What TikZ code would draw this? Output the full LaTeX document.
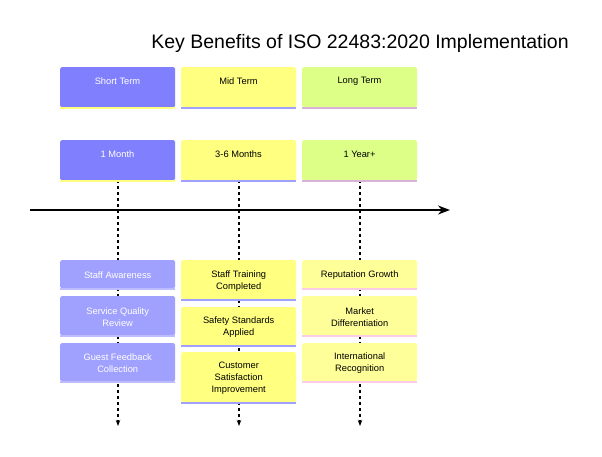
\documentclass[tikz,border=0pt]{standalone}
\usepackage{fontspec}
\setmainfont{Liberation Sans}
\usetikzlibrary{arrows.meta}
\definecolor{cshort}{HTML}{8080FF}
\definecolor{cshortl}{HTML}{A0A0FF}
\definecolor{cmid}{HTML}{FFFF80}
\definecolor{clong}{HTML}{DDFF88}
\definecolor{clongl}{HTML}{FFFF99}
\begin{document}
\begin{tikzpicture}[x=1pt,y=-1pt,
  bx/.style={draw=none,rounded corners=1.5pt,minimum width=115pt,align=center,inner sep=0pt,anchor=north west},
  dl/.style={dash pattern=on 3pt off 3pt,line width=1.2pt},
  tw/.style={font=\fontsize{9.3}{12}\selectfont,align=center,text=white},
  tb/.style={font=\fontsize{9.3}{12}\selectfont,align=center},
]
\useasboundingbox (0,0) rectangle (602,456);
\node[font=\fontsize{19.5}{22}\selectfont] (title) at (360,43) {Key Benefits of ISO 22483:2020 Implementation};
\coordinate (e1) at (118,426); \coordinate (e2) at (239,426); \coordinate (e3) at (360,426);
\coordinate (b1) at (118,180); \coordinate (b2) at (239,180); \coordinate (b3) at (360,180);
\draw[dl,-{Stealth[length=6pt]}] (b1) -- (e1);
\draw[dl,-{Stealth[length=6pt]}] (b2) -- (e2);
\draw[dl,-{Stealth[length=6pt]}] (b3) -- (e3);
\coordinate (a0) at (30,210); \coordinate (a1) at (450,210);
\draw[line width=1.8pt,-{Stealth[length=12pt,width=9pt]}] (a0) -- (a1);
\newcommand\mybox[6]{%
  \node[bx,fill=#5,minimum height=#4pt] (#1) at (#2,#3) {};
  \fill[#6] ([yshift=-1.5pt]#1.south west) rectangle (#1.south east);}
\mybox{s1}{60}{67}{40}{cshort}{cmid}
\mybox{m1}{181}{67}{40}{cmid}{cshortl}
\mybox{l1}{302}{67}{40}{clong}{violet!30}
\node[tw] at (117.5,81) {Short Term};
\node[tb] at (238.5,81) {Mid Term};
\node[tb] at (359.5,81) {Long Term};
\mybox{s2}{60}{140}{40}{cshort}{cmid}
\mybox{m2}{181}{140}{40}{cmid}{cshortl}
\mybox{l2}{302}{140}{40}{clong}{violet!30}
\node[tw] at (117.5,154) {1 Month};
\node[tb] at (238.5,154) {3-6 Months};
\node[tb] at (359.5,154) {1 Year+};
\mybox{s3}{60}{260}{28}{cshortl}{cshortl!70}
\mybox{s4}{60}{296}{39}{cshortl}{cshortl!70}
\mybox{s5}{60}{343}{38}{cshortl}{cshortl!70}
\mybox{m3}{181}{260}{39}{cmid}{cshortl}
\mybox{m4}{181}{307}{38}{cmid}{cshortl}
\mybox{m5}{181}{352}{50}{cmid}{cshortl}
\mybox{l3}{302}{260}{28}{clongl}{magenta!20}
\mybox{l4}{302}{296}{39}{clongl}{magenta!20}
\mybox{l5}{302}{343}{38}{clongl}{magenta!20}
\node[tw] at ([yshift=-1pt]s3.center) {Staff Awareness};
\node[tw] at ([yshift=-1pt]s4.center) {Service Quality\\Review};
\node[tw] at ([yshift=-1pt]s5.center) {Guest Feedback\\Collection};
\node[tb] at ([yshift=-1pt]m3.center) {Staff Training\\Completed};
\node[tb] at ([yshift=-1pt]m4.center) {Safety Standards\\Applied};
\node[tb] at ([yshift=-1pt]m5.center) {Customer\\Satisfaction\\Improvement};
\node[tb] at ([yshift=-1pt]l3.center) {Reputation Growth};
\node[tb] at ([yshift=-1pt]l4.center) {Market\\Differentiation};
\node[tb] at ([yshift=-1pt]l5.center) {International\\Recognition};
\end{tikzpicture}
\end{document}
